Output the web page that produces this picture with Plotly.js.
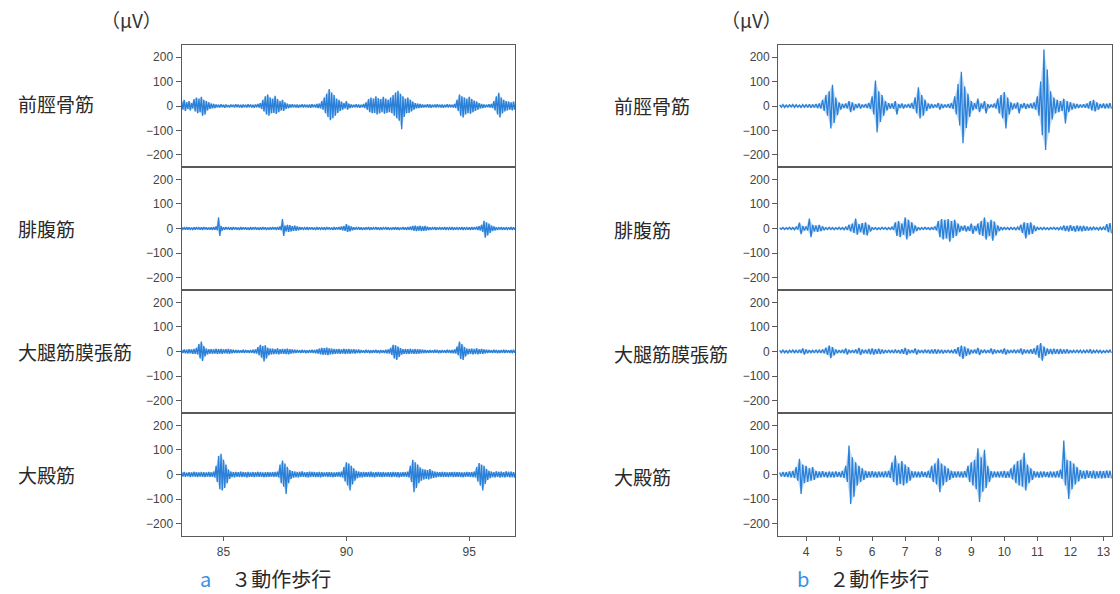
<!DOCTYPE html>
<html>
<head>
<meta charset="utf-8">
<script src="https://cdn.plot.ly/plotly-3.0.1.min.js"></script>
<style>html,body{margin:0;padding:0;background:#fff;}#chart{width:1120px;height:594px;}</style>
</head>
<body>
<div id="chart"></div>
<script>
// ---------- data (µV, min/max envelope per 0.1 s window) ----------
const muscles = ["前脛骨筋", "腓腹筋", "大腿筋膜張筋", "大殿筋"];
const panelTitles = ["３動作歩行", "２動作歩行"];
const panelLetters = ["a", "b"];
const unitLabel = "（μV）";
const yTickVals = [-200, -100, 0, 100, 200];
const yTickText = ["−200", "−100", "0", "100", "200"];
const leftTickVals = [85, 90, 95];
const rightTickVals = [4, 5, 6, 7, 8, 9, 10, 11, 12, 13];
const leftStart = 83.3, rightStart = 3.2, sampleStep = 0.1;

// a: 3動作歩行 (t = 83.3 ... 96.9 s)
const L1_hi = [18,25,15,20,12,28,35,30,38,25,20,15,10,8, 6,5,7,5,6,4,6,5,7,6,5,6,5,7,6,5,6,8, 12,25,40,47,35,30,42,28,20,25,15,10, 6,7,5,6,5,7,6,5,6,7,5,8,10, 20,35,50,70,55,45,30,25,18,12,20,10, 6,5,7,6,5,8, 15,28,35,30,40,32,28,38,30,25,35,45,55,62,50,40,30,35,25,18,12,10,8, 6,5,7,6,5,6,7,5,6,5,7,6,5,8, 25,47,40,35,30,38,28,22,18,12,8, 6,5,7,8, 20,40,54,35,25,20,18,15,18,15];
const L1_lo = [-15,-20,-12,-18,-10,-22,-30,-25,-40,-35,-18,-12,-10,-8, -5,-6,-5,-7,-5,-6,-4,-6,-5,-6,-7,-5,-6,-5,-6,-7,-5,-6, -12,-22,-35,-40,-30,-28,-33,-25,-18,-20,-12,-9, -6,-5,-6,-7,-5,-6,-5,-6,-7,-5,-6,-8,-10, -15,-30,-45,-58,-50,-40,-28,-20,-15,-10,-15,-8, -6,-5,-6,-7,-5,-8, -15,-25,-30,-28,-35,-30,-25,-32,-28,-25,-30,-40,-50,-60,-95,-45,-30,-28,-22,-15,-10,-8,-7, -6,-5,-6,-7,-5,-6,-5,-6,-7,-5,-6,-5,-6,-8, -20,-40,-47,-35,-30,-32,-25,-20,-15,-10,-8, -6,-5,-6,-8, -18,-35,-47,-30,-22,-18,-15,-18,-15,-12];

const L2_hi = [5,4,6,5,4,5,6,4,5,6,5,4,5,6,8, 45, 10, 5,6,4,5,6,5,4,6,5,5,4,6,5,6,4,5,6,5,4,5,6,5,6,8, 38, 12,15,14,10,12,8,6, 5,4,6,5,5,4,6,5,4,5,6,5,4,6,5,6,8, 10,18,12,8, 5,4,6,5,4,5,6,5,4,6,5,5,4,6,5,4,5,6,5,4,6,5,6,7, 10,12,9,11,8,10,7, 5,4,6,5,4,5,6,5,4,6,5,4,5,6,5,4,5,6,5,7,9, 15,31,25,20,12,8, 5,4,6,5,4,5,6,5,4];
const L2_lo = [-4,-5,-5,-4,-6,-5,-4,-5,-6,-4,-5,-5,-6,-5,-7, -30, -8, -5,-4,-5,-6,-4,-5,-6,-5,-4,-5,-6,-5,-4,-5,-6,-5,-4,-6,-5,-5,-4,-6,-5,-7, -30, -12,-14,-12,-10,-9,-7,-5, -4,-5,-6,-4,-5,-6,-5,-4,-5,-6,-4,-5,-6,-5,-4,-5,-7, -10,-14,-12,-7, -5,-4,-5,-6,-5,-4,-6,-5,-4,-5,-6,-5,-4,-5,-6,-4,-5,-5,-6,-4,-5,-6,-5,-6, -9,-11,-8,-10,-9,-8,-6, -5,-4,-6,-5,-4,-5,-6,-4,-5,-6,-5,-4,-5,-6,-4,-5,-6,-5,-4,-6,-8, -14,-37,-28,-18,-10,-7, -5,-4,-6,-5,-4,-5,-6,-5,-4];

const L3_hi = [6,8,7,9,8,10, 15,30,40,22,12, 9,10,8,11,9,10,8,9,10,8,7,6, 6,5,7,6,5,6,7,8, 18,27,22,25,15,12, 12,10,13,9,11,10,12,9,8,7, 6,5,7,6,5,6,7,6,8, 12,15,14,16,13,12,10, 9,10,8,11,9,10,8,9,7,8, 6,5,7,6,5,6,7,5,6,5,7,8, 15,27,25,20,14,10, 10,9,11,8,10,9,8,7,6, 5,6,5,7,6,5,6,5,7,6,6,8, 20,40,30,18,12, 11,12,10,13,9,11,8,7, 6,5,7,6,5,6,7,6,5,6,7,6];
const L3_lo = [-6,-7,-8,-7,-9,-10, -12,-28,-38,-20,-12, -8,-9,-8,-10,-8,-9,-7,-8,-9,-7,-6,-6, -6,-5,-6,-5,-6,-5,-7,-8, -15,-25,-40,-28,-15,-12, -11,-10,-12,-9,-10,-11,-12,-8,-7,-6, -5,-6,-5,-7,-6,-5,-6,-7,-8, -12,-14,-13,-15,-12,-11,-9, -8,-9,-8,-10,-8,-9,-7,-8,-6,-7, -5,-6,-5,-7,-6,-5,-6,-7,-5,-6,-7,-8, -14,-28,-34,-22,-13,-10, -9,-10,-8,-9,-10,-8,-7,-6,-6, -6,-5,-6,-5,-7,-6,-5,-6,-5,-6,-7,-8, -15,-30,-34,-20,-12, -10,-12,-10,-12,-9,-10,-7,-6, -5,-6,-5,-7,-6,-5,-6,-5,-6,-7,-5,-6];

const L4_hi = [8,10,7,9,8,11,9,8,10,9,8,10,9,12, 35,75,84,60,40,20, 12,10,11,9,12,10,9,11,8,10,9,11,10,8,9,10,8,9,10,12, 40,57,45,30,18, 14,12,10,11,13,9,10,12,11,10,9,11,10,8,9,10,9,8,9,10,12, 30,50,45,35,25,15, 12,10,11,9,10,12,9,10,11,9,10,8,9,10,11,9,10,8,9,10,12, 35,60,50,40,28,22, 20,18,22,15,12, 10,9,11,10,8,9,10,11,9,10,8,9,10,9,10,12, 30,47,40,35,22,15, 12,10,13,11,12,10,13,11,12,10,11];
const L4_lo = [-8,-9,-7,-10,-8,-9,-10,-8,-9,-10,-8,-9,-10,-12, -30,-60,-65,-55,-35,-18, -11,-12,-9,-10,-11,-9,-12,-10,-9,-11,-8,-10,-9,-11,-10,-9,-8,-10,-9,-12, -35,-50,-79,-35,-18, -13,-11,-12,-10,-9,-11,-12,-10,-9,-11,-10,-12,-9,-8,-10,-9,-11,-9,-8,-10,-12, -28,-45,-65,-40,-25,-15, -11,-12,-10,-9,-11,-10,-12,-9,-10,-11,-9,-8,-10,-11,-9,-10,-12,-9,-8,-10,-12, -30,-72,-55,-35,-25,-20, -18,-20,-16,-14,-12, -9,-10,-11,-9,-10,-8,-11,-10,-9,-10,-11,-9,-8,-10,-11,-12, -28,-45,-65,-38,-22,-15, -11,-12,-10,-13,-11,-12,-10,-12,-11,-13,-12];

// b: 2動作歩行 (t = 3.2 ... 13.2 s)
const R1_hi = [5,6,4,5,6,5,4,6,5,7,6,8,10, 25,45,60,87,35,15, 8,10,20,15,8,10,6,8,12, 40,104,60,45,20, 12,10,20,8,10,6,8,12, 35,77,45,25, 10,8,6,12,8,6,8,12, 40,90,140,80,50,20, 12,30,10,20,8,6,10, 30,45,57,35,15, 10,15,8,12,8,10,15, 40,100,232,150,60,35, 25,20,30,20,15,10, 8,6,7,10, 20,25,15, 8,10,9,12];
const R1_lo = [-5,-6,-5,-4,-6,-5,-6,-5,-6,-7,-6,-8,-10, -20,-40,-92,-70,-38,-15, -8,-10,-25,-18,-8,-10,-6,-8,-12, -35,-108,-65,-40,-18, -10,-12,-35,-8,-10,-6,-8,-12, -30,-51,-40,-20, -10,-8,-6,-15,-8,-6,-8,-12, -35,-80,-153,-90,-45,-18, -12,-25,-10,-30,-8,-6,-10, -30,-50,-92,-35,-15, -10,-30,-8,-12,-8,-10,-15, -40,-120,-180,-110,-55,-30, -25,-20,-72,-25,-15,-10, -8,-6,-7,-10, -18,-22,-15, -8,-10,-9,-12];

const R2_hi = [3,4,3,5,4,6, 24,10,8,40,15,12,15,8, 4,5,4,3,5,4,6, 15,20,40,18,22,25,15, 5,4,3,5,4,4,6, 25,30,20,45,35,25,12, 5,4,5,3,4,8, 30,38,35,38,30,35,20, 10,12,8,20,10, 20,30,45,25,35,28,12, 6,5,4,5,4,6, 15,25,22,25,12, 5,4,5,3,4,5,4,6, 12,10,14,9,12,10,11,8, 5,6,4,5,6, 18,22];
const R2_lo = [-3,-4,-3,-4,-5,-4, -23,-8,-8,-35,-12,-14,-10,-7, -4,-4,-5,-3,-4,-5,-6, -12,-18,-25,-15,-25,-28,-12, -4,-5,-4,-3,-5,-4,-6, -30,-35,-25,-45,-30,-20,-10, -5,-4,-3,-5,-4,-8, -35,-45,-40,-54,-38,-30,-15, -8,-12,-10,-22,-10, -25,-30,-45,-30,-50,-28,-10, -5,-4,-5,-4,-5,-6, -18,-40,-25,-22,-10, -4,-5,-4,-5,-3,-4,-5,-6, -10,-12,-9,-13,-10,-11,-9,-8, -5,-4,-6,-5,-6, -15,-20];

const R3_hi = [5,6,4,5,6,5,7, 12, 8, 6,5,7,6,8, 15,24,18, 8,6,7, 12, 7, 6,8, 15, 8,7, 10,12,9,11,8, 6,7,5,8,6,9, 15, 8,6, 12, 7,6,8,7, 8,9,8,7, 6,7,5,9, 18,24,20,12, 7,8, 15, 7,8,6, 12, 8,6,7, 12, 7,6,8,7, 12, 8,7,9,12, 25,34,20, 12,10,11,9,10,8,9, 6,5,7,6,5,6, 9, 5,6,5,4,5,6];
const R3_lo = [-5,-5,-6,-4,-5,-6,-6, -12, -7, -5,-6,-5,-6,-7, -14,-27,-16, -7,-6,-7, -12, -6, -6,-8, -14, -7,-8, -11,-12,-9,-10,-8, -6,-5,-7,-6,-8,-9, -14, -7,-6, -12, -6,-7,-6,-8, -8,-9,-7,-8, -6,-5,-7,-9, -20,-30,-18,-12, -7,-8, -14, -6,-7,-6, -11, -7,-6,-8, -12, -7,-6,-7,-6, -12, -7,-8,-9,-12, -25,-37,-18, -10,-11,-9,-10,-9,-8,-8, -5,-6,-5,-6,-5,-6, -8, -5,-5,-6,-5,-4,-6];

const R4_hi = [8,10,9,12,15, 30,64,40,35,25,30, 15,12,14,10,12,11,13,10,15, 35,118,70,50,35,25, 15,12,14,11,12,10,13,15, 50,77,45,55,40,30, 14,12,11,13,10,15, 35,45,66,45,35,25, 15,12,13,11,14, 35,50,60,107,70,100,35, 14,12,11,13,15, 12,25,40,55,60,88, 40,25,14,11,13,12,10,13,11,14,20, 138,60,55,45,30, 18,15,17,14,16,13,15,14,16,15];
const R4_lo = [-8,-9,-10,-12,-14, -25,-79,-35,-30,-25,-22, -14,-12,-10,-13,-11,-12,-10,-11,-14, -30,-120,-90,-45,-30,-22, -14,-12,-11,-13,-10,-12,-11,-14, -30,-45,-38,-45,-35,-25, -13,-11,-12,-10,-12,-14, -30,-40,-72,-45,-30,-22, -14,-12,-11,-13,-12, -30,-45,-60,-112,-70,-55,-30, -13,-11,-12,-12,-14, -12,-20,-35,-45,-50,-65, -35,-22,-11,-13,-12,-10,-12,-11,-13,-12,-18, -45,-99,-60,-40,-28, -16,-18,-14,-15,-17,-14,-16,-15,-14,-16];

// ---------- layout geometry ----------
const W = 1120, H = 594;
const colX = [[181.7, 515], [778.3, 1111.7]];
const colRange = [[83.3, 96.86], [3.16, 13.25]];
const rowPx = [[45, 167], [167, 290], [290, 413], [413, 536]];
const fx = p => p / W, fy = p => 1 - p / H;

const panels = [
  {col: 0, hi: L1_hi, lo: L1_lo}, {col: 0, hi: L2_hi, lo: L2_lo},
  {col: 0, hi: L3_hi, lo: L3_lo}, {col: 0, hi: L4_hi, lo: L4_lo},
  {col: 1, hi: R1_hi, lo: R1_lo}, {col: 1, hi: R2_hi, lo: R2_lo},
  {col: 1, hi: R3_hi, lo: R3_lo}, {col: 1, hi: R4_hi, lo: R4_lo}
];

const traces = [];
const layout = {
  width: W, height: H,
  margin: {l: 0, r: 0, t: 0, b: 0},
  paper_bgcolor: "#ffffff", plot_bgcolor: "#ffffff",
  showlegend: false,
  font: {family: "Liberation Sans, Arial, sans-serif", size: 12, color: "#444"},
  annotations: []
};
const LINE = "#5a5a5a";
const BLUE = "#2a80d8";

panels.forEach((p, k) => {
  const n = k + 1;
  const row = k % 4;
  const start = p.col === 0 ? leftStart : rightStart;
  const xs = [], ys = [];
  const bx = [], by = [];
  for (let i = 0; i < p.hi.length; i++) {
    const t = start + i * sampleStep;
    xs.push(t, t + sampleStep / 2);
    ys.push(p.hi[i], p.lo[i]);
    bx.push(t); by.push(p.hi[i]);
  }
  for (let i = p.lo.length - 1; i >= 0; i--) {
    bx.push(start + i * sampleStep + sampleStep / 2); by.push(p.lo[i]);
  }
  // envelope band (dense core of the signal)
  traces.push({
    type: "scatter", mode: "lines", x: bx, y: by, fill: "toself",
    fillcolor: "rgba(42,128,216,0.28)", line: {width: 0, color: "rgba(0,0,0,0)"},
    xaxis: "x" + n, yaxis: "y" + n, hoverinfo: "skip"
  });
  // min/max trace
  traces.push({
    type: "scatter", mode: "lines", x: xs, y: ys,
    xaxis: "x" + n, yaxis: "y" + n,
    line: {color: BLUE, width: 1.3}, hoverinfo: "skip"
  });
  const bottom = row === 3;
  layout["xaxis" + n] = {
    domain: [fx(colX[p.col][0]), fx(colX[p.col][1])],
    anchor: "y" + n,
    range: colRange[p.col],
    showgrid: false, zeroline: false,
    showline: true, mirror: true, linecolor: LINE, linewidth: 1.2,
    ticks: bottom ? "outside" : "", ticklen: 4, tickcolor: LINE,
    tickvals: p.col === 0 ? leftTickVals : rightTickVals,
    showticklabels: bottom,
    tickfont: {size: 12, color: "#444"}
  };
  layout["yaxis" + n] = {
    domain: [fy(rowPx[row][1]), fy(rowPx[row][0])],
    anchor: "x" + n,
    range: [-250, 250],
    showgrid: false, zeroline: false,
    showline: true, mirror: true, linecolor: LINE, linewidth: 1.2,
    ticks: "outside", ticklen: 5, tickcolor: LINE,
    tickvals: yTickVals, ticktext: yTickText,
    tickfont: {size: 12, color: "#444"}
  };
});

// muscle labels
const CJK = "Noto Sans CJK JP, sans-serif";
const labelY = [[103, 228, 351, 474], [106, 229, 353, 476]];
const labelX = [16, 612];
[0, 1].forEach(c => {
  muscles.forEach((m, r) => {
    layout.annotations.push({
      xref: "paper", yref: "paper", x: fx(labelX[c]), y: fy(labelY[c][r]),
      xanchor: "left", yanchor: "middle", showarrow: false,
      text: m, font: {family: CJK, size: 19, color: "#2a2a2a"}
    });
  });
  layout.annotations.push({
    xref: "paper", yref: "paper", x: fx(c === 0 ? 131 : 752), y: fy(20),
    xanchor: "center", yanchor: "middle", showarrow: false,
    text: unitLabel, font: {family: CJK, size: 19, color: "#333"}
  });
  layout.annotations.push({
    xref: "paper", yref: "paper", x: fx(c === 0 ? 198 : 795), y: fy(578),
    xanchor: "left", yanchor: "middle", showarrow: false,
    text: "<span style='color:#3b8fe0'>" + panelLetters[c] + "</span>　" + panelTitles[c],
    font: {family: CJK, size: 20, color: "#2a2a2a"}
  });
});

Plotly.newPlot("chart", traces, layout, {staticPlot: true, displayModeBar: false});
</script>
</body>
</html>
